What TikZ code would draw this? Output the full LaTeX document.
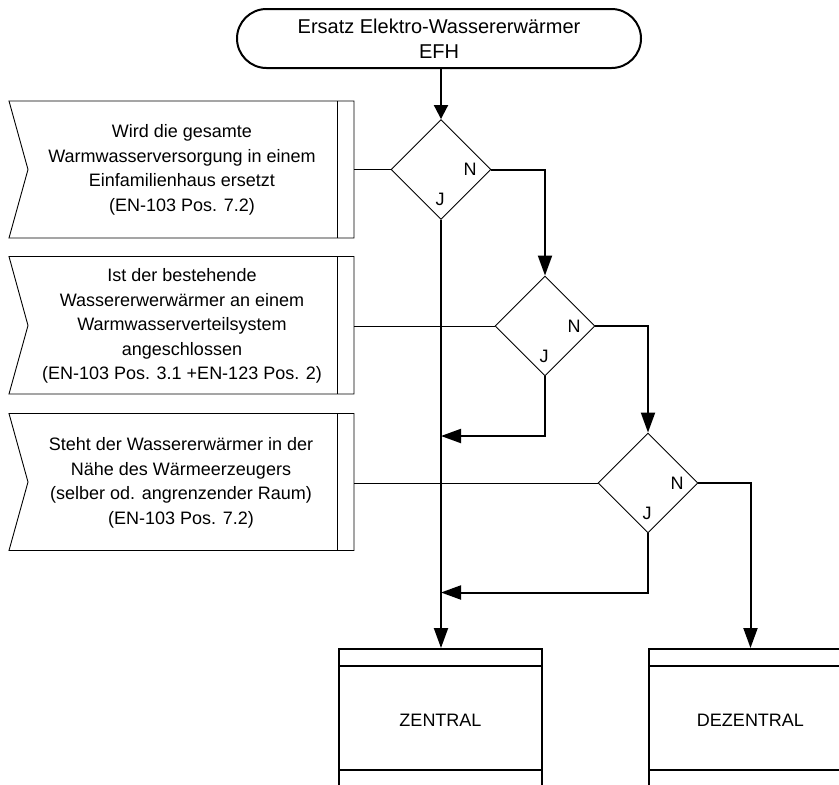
\documentclass[tikz,border=0pt]{standalone}
\usepackage{fontspec}
\setmainfont{Liberation Sans}
\usetikzlibrary{shapes.geometric,arrows.meta,calc}
\begin{document}
\begin{tikzpicture}[x=1pt,y=-1pt,
  every node/.style={font=\fontsize{18}{24.5}\selectfont, inner sep=0pt},
  thinline/.style={line width=0.9pt},
  flow/.style={line width=2pt},
  arr/.style={flow,-{Triangle[length=20pt,width=14pt]}},
  arrshort/.style={flow,-{Triangle[length=14pt,width=14pt]}},
  decision/.style={diamond, draw, thinline, aspect=1, minimum width=100pt, minimum height=100pt},
  callout/.style={draw, thinline, line join=miter},
  qtext/.style={align=center},
  lbl/.style={},
  endbox/.style={draw, flow, minimum width=203pt, minimum height=142pt, align=center},
  terminal/.style={draw, flow, rounded corners=29.5pt, minimum width=404pt, minimum height=59pt, align=center}
]
\useasboundingbox (0,0) rectangle (839,785);
\clip (0,0) rectangle (839,785);

% start terminal
\node[terminal, font=\fontsize{20}{25}\selectfont] (start) at (439,38.5) {Ersatz Elektro-Wassererwärmer\\EFH};

% decisions
\node[decision] (d1) at (441,169.5) {};
\node[decision] (d2) at (545,326) {};
\node[decision] (d3) at (648,483) {};

\node[lbl] (n1) at ($(d1)+(29,0)$) {N};
\node[lbl] (j1) at ($(d1)+(-1,30)$) {J};
\node[lbl] (n2) at ($(d2)+(29,0)$) {N};
\node[lbl] (j2) at ($(d2)+(-1,30)$) {J};
\node[lbl] (n3) at ($(d3)+(29,0)$) {N};
\node[lbl] (j3) at ($(d3)+(-1,30)$) {J};

% callouts
\draw[callout] (9,101) -- (354,101) -- (354,238) -- (9,238) -- (28,169.5) -- cycle;
\draw[callout] (337,101) -- (337,238);
\coordinate (q1e) at (354,169.5);
\node[qtext] (q1) at (182,170) {Wird die gesamte\\Warmwasserversorgung in einem\\Einfamilienhaus ersetzt\\(EN-103 Pos. 7.2)};

\draw[callout] (9,256.5) -- (354,256.5) -- (354,394) -- (9,394) -- (28,325.5) -- cycle;
\draw[callout] (337,256.5) -- (337,394);
\coordinate (q2e) at (354,326);
\node[qtext] (q2) at (182,326) {Ist der bestehende\\Wassererwerwärmer an einem\\Warmwasserverteilsystem\\angeschlossen\\(EN-103 Pos. 3.1 +EN-123 Pos. 2)};

\draw[callout] (9,413.5) -- (354,413.5) -- (354,550.5) -- (9,550.5) -- (28,482) -- cycle;
\draw[callout] (337,413.5) -- (337,550.5);
\coordinate (q3e) at (354,483);
\node[qtext] (q3) at (181,483) {Steht der Wassererwärmer in der\\Nähe des Wärmeerzeugers\\(selber od. angrenzender Raum)\\(EN-103 Pos. 7.2)};

\draw[thinline] (q1e) -- (d1.west);
\draw[thinline] (q2e) -- (d2.west);
\draw[thinline] (q3e) -- (d3.west);

% end boxes
\node[endbox] (zen) at (440.5,720) {ZENTRAL};
\node[endbox] (dez) at (750.5,720) {DEZENTRAL};
\draw[flow] ($(zen.north west)+(0,18)$) -- ($(zen.north east)+(0,18)$);
\draw[flow] ($(zen.north west)+(0,122)$) -- ($(zen.north east)+(0,122)$);
\draw[flow] ($(dez.north west)+(0,18)$) -- ($(dez.north east)+(0,18)$);
\draw[flow] ($(dez.north west)+(0,122)$) -- ($(dez.north east)+(0,122)$);

% merge points
\coordinate (m1) at (441,436);
\coordinate (m2) at (441,592.5);

% connectors
\draw[arrshort] (start.south -| d1.north) -- (d1.north);
\draw[arr] (d1.east) -| (d2.north);
\draw[arr] (d2.east) -| (d3.north);
\draw[arr] (d3.east) -| (dez.north);
\draw[arr] (d1.south) -- (d1.south |- zen.north);
\draw[arr] (d2.south) |- (m1);
\draw[arr] (d3.south) |- (m2);
\end{tikzpicture}
\end{document}
